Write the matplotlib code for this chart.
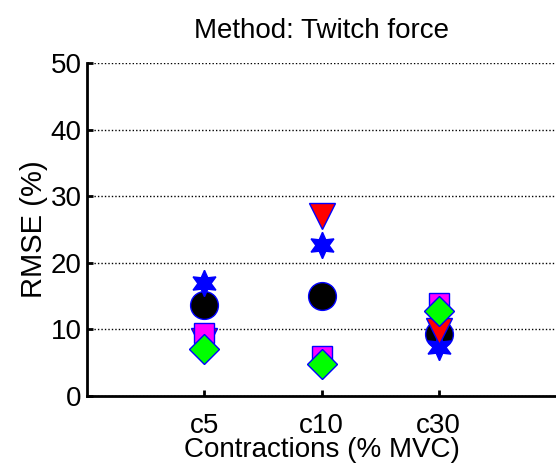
import numpy as np
import matplotlib.pyplot as plt

plt.rcParams['font.family'] = ['Liberation Sans', 'DejaVu Sans']

# contraction levels on the x axis
categories = ['c5', 'c10', 'c30']
xpos = [1, 2, 3]

# RMSE (%) per method marker
circle_vals = [13.6, 15.0, 9.3]
star_vals = [16.9, 22.7, 7.3]
tri_vals = [8.2, 27.0, 9.8]
square_vals = [9.4, 6.0, 14.0]
diamond_vals = [7.0, 4.8, 12.7]

fig = plt.figure(figsize=(5.56, 4.66), dpi=100)
ax = fig.add_axes([0.1565, 0.15, 0.8435, 0.715])

edge = '#0000ff'
ax.plot(xpos, circle_vals, 'o', ms=20, mfc='black', mec=edge, mew=1, ls='none')
ax.plot(xpos, star_vals, marker=(6, 1, 0), ms=19, mfc=edge, mec=edge, mew=1, ls='none')
ax.plot(xpos, tri_vals, 'v', ms=19, mfc='red', mec=edge, mew=1, ls='none')
ax.plot(xpos, square_vals, 's', ms=15, mfc='magenta', mec=edge, mew=1, ls='none')
ax.plot(xpos, diamond_vals, 'D', ms=15, mfc='#00ff00', mec=edge, mew=1, ls='none')

ax.set_xlim(0, 4)
ax.set_ylim(0, 50)
ax.set_yticks([0, 10, 20, 30, 40, 50])
ax.set_xticks(xpos)
ax.set_xticklabels(categories)

# dotted horizontal grid
ax.yaxis.grid(True, linestyle=(0, (1, 1.5)), color='black', linewidth=1)
ax.set_axisbelow(True)

ax.spines['top'].set_visible(False)
ax.spines['right'].set_visible(False)
ax.spines['left'].set_linewidth(2)
ax.spines['bottom'].set_linewidth(2)
ax.tick_params(direction='in', length=4, width=2, labelsize=20, pad=4)
ax.tick_params(axis='x', labelsize=20, pad=12)

ax.set_title('Method: Twitch force', fontsize=20, pad=18)
ax.set_xlabel('Contractions (% MVC)', fontsize=20, labelpad=-1)
ax.set_ylabel('RMSE (%)', fontsize=21, labelpad=2)

fig.savefig('out.png', dpi=100)
